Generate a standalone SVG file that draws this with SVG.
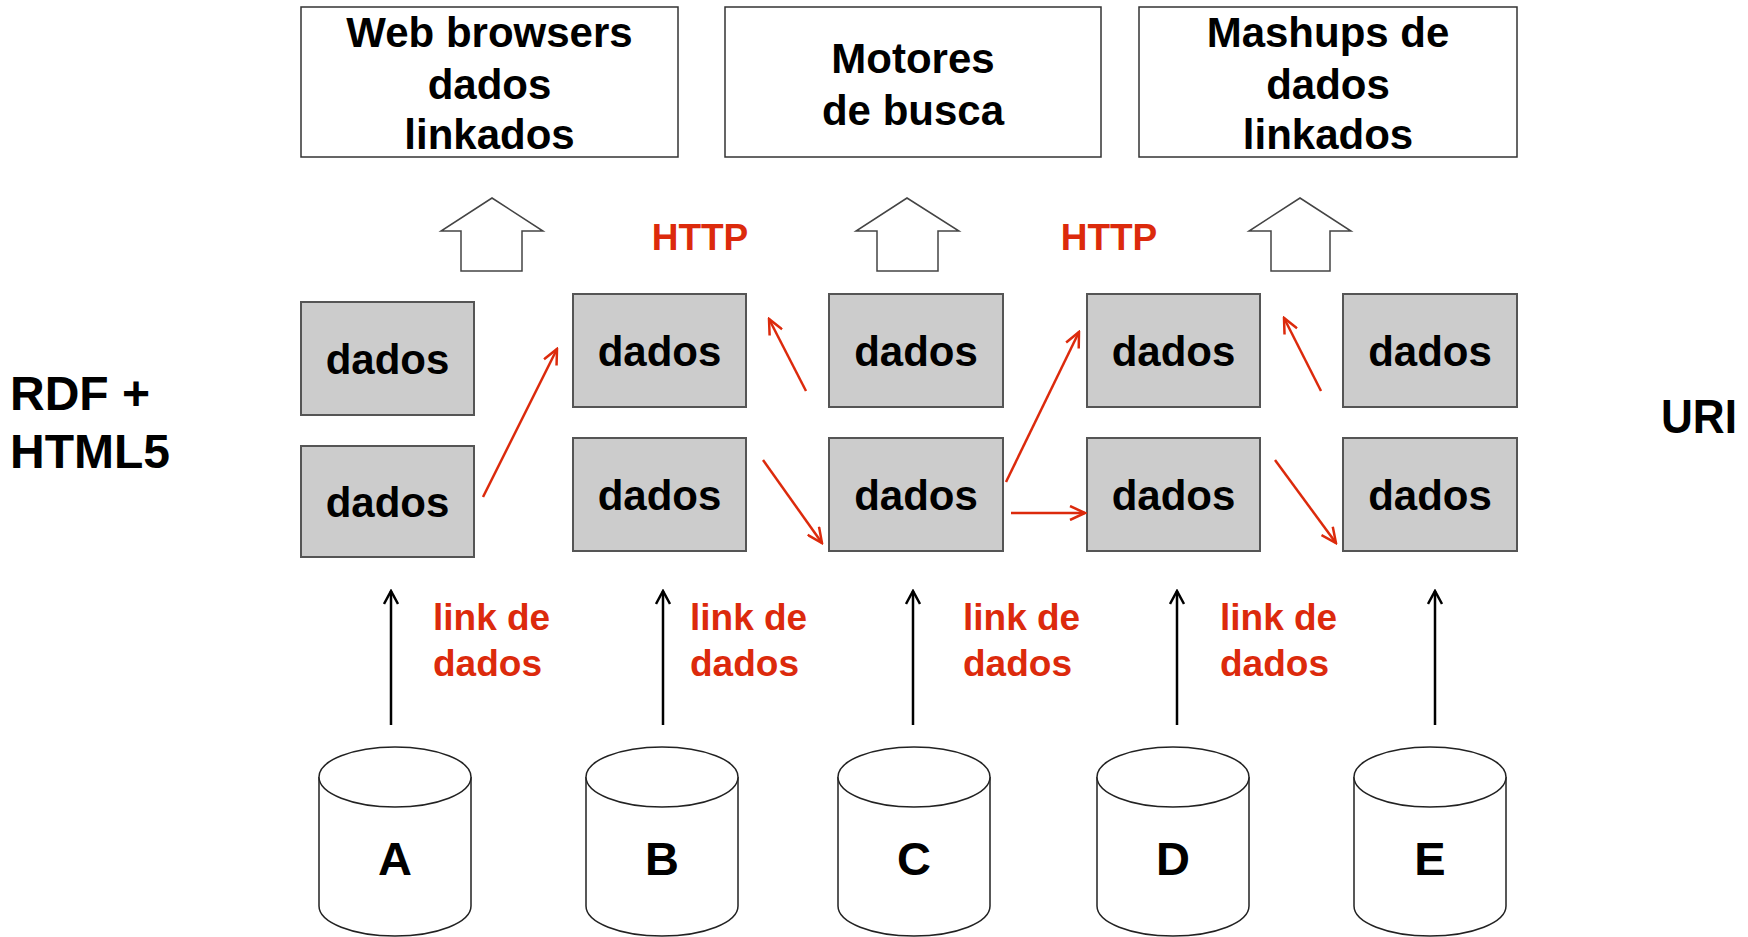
<svg xmlns="http://www.w3.org/2000/svg" width="1748" height="937" viewBox="0 0 1748 937">
<defs>
<style>
.t{font-family:"Liberation Sans",Arial,sans-serif;font-weight:bold;text-anchor:middle;fill:#000}
.top{font-size:42px}
.dd{font-size:42px}
.red{fill:#dc2a0c}
.lbl{font-family:"Liberation Sans",Arial,sans-serif;font-weight:bold;font-size:37px;fill:#dc2a0c}
.box{fill:#fff;stroke:#333;stroke-width:1.5}
.gray{fill:#cccccc;stroke:#555;stroke-width:2}
.blk{fill:#fff;stroke:#444;stroke-width:1.5}
.cyl{fill:#fff;stroke:#222;stroke-width:1.5}
.ra{stroke:#dc2a0c;stroke-width:2.5;fill:none;marker-end:url(#rh)}
.ba{stroke:#000;stroke-width:2.5;fill:none;marker-end:url(#bh)}
</style>
<marker id="rh" markerUnits="userSpaceOnUse" viewBox="0 0 18 16" refX="16" refY="8" markerWidth="18" markerHeight="16" orient="auto">
<path d="M1,1 L16,8 L1,15" fill="none" stroke="#dc2a0c" stroke-width="2.5"/>
</marker>
<marker id="bh" markerUnits="userSpaceOnUse" viewBox="0 0 16 16" refX="14" refY="8" markerWidth="16" markerHeight="16" orient="auto">
<path d="M1,1 L14,8 L1,15" fill="none" stroke="#000" stroke-width="2.5"/>
</marker>
</defs>
<rect width="1748" height="937" fill="#fff"/>

<g id="app-browsers">
<rect class="box" x="301" y="7" width="377" height="150"/>
<text class="t top" x="489.5" y="47">Web browsers</text>
<text class="t top" x="489.5" y="99">dados</text>
<text class="t top" x="489.5" y="149">linkados</text>
</g>
<g id="app-search">
<rect class="box" x="725" y="7" width="376" height="150"/>
<text class="t top" x="913" y="73">Motores</text>
<text class="t top" x="913" y="125">de busca</text>
</g>
<g id="app-mashups">
<rect class="box" x="1139" y="7" width="378" height="150"/>
<text class="t top" x="1328" y="47">Mashups de</text>
<text class="t top" x="1328" y="99">dados</text>
<text class="t top" x="1328" y="149">linkados</text>
</g>

<g id="up-arrows">
<polygon class="blk" points="492,198 543,231 522,231 522,271 461,271 461,231 441,231"/>
<polygon class="blk" points="907,198 959,231 938,231 938,271 877,271 877,231 856,231"/>
<polygon class="blk" points="1300,198 1351,231 1330,231 1330,271 1271,271 1271,231 1249,231"/>
</g>

<g id="http-labels">
<text class="lbl" x="700" y="250" text-anchor="middle">HTTP</text>
<text class="lbl" x="1109" y="250" text-anchor="middle">HTTP</text>
</g>

<g id="side-labels">
<text class="t" x="10" y="410" style="font-size:48px;text-anchor:start">RDF +</text>
<text class="t" x="10" y="468" style="font-size:48px;text-anchor:start">HTML5</text>
<text class="t" x="1661" y="433" style="font-size:48px;text-anchor:start" textLength="76" lengthAdjust="spacingAndGlyphs">URI</text>
</g>

<g id="d-a1"><rect class="gray" x="301" y="302" width="173" height="113"/><text class="t dd" x="387.5" y="374">dados</text></g>
<g id="d-a2"><rect class="gray" x="301" y="446" width="173" height="111"/><text class="t dd" x="387.5" y="517">dados</text></g>
<g id="d-b1"><rect class="gray" x="573" y="294" width="173" height="113"/><text class="t dd" x="659.5" y="366">dados</text></g>
<g id="d-b2"><rect class="gray" x="573" y="438" width="173" height="113"/><text class="t dd" x="659.5" y="510">dados</text></g>
<g id="d-c1"><rect class="gray" x="829" y="294" width="174" height="113"/><text class="t dd" x="916" y="366">dados</text></g>
<g id="d-c2"><rect class="gray" x="829" y="438" width="174" height="113"/><text class="t dd" x="916" y="510">dados</text></g>
<g id="d-d1"><rect class="gray" x="1087" y="294" width="173" height="113"/><text class="t dd" x="1173.5" y="366">dados</text></g>
<g id="d-d2"><rect class="gray" x="1087" y="438" width="173" height="113"/><text class="t dd" x="1173.5" y="510">dados</text></g>
<g id="d-e1"><rect class="gray" x="1343" y="294" width="174" height="113"/><text class="t dd" x="1430" y="366">dados</text></g>
<g id="d-e2"><rect class="gray" x="1343" y="438" width="174" height="113"/><text class="t dd" x="1430" y="510">dados</text></g>

<g id="connectors">
<line class="ra" x1="483" y1="497" x2="557" y2="349"/>
<line class="ra" x1="806" y1="391" x2="769" y2="319"/>
<line class="ra" x1="763" y1="460" x2="822" y2="543"/>
<line class="ra" x1="1006" y1="482" x2="1079" y2="332"/>
<line class="ra" x1="1011" y1="513" x2="1085" y2="513"/>
<line class="ra" x1="1321" y1="391" x2="1284" y2="318"/>
<line class="ra" x1="1275" y1="460" x2="1336" y2="543"/>
<line class="ba" x1="391" y1="725" x2="391" y2="591"/>
<line class="ba" x1="663" y1="725" x2="663" y2="591"/>
<line class="ba" x1="913" y1="725" x2="913" y2="591"/>
<line class="ba" x1="1177" y1="725" x2="1177" y2="591"/>
<line class="ba" x1="1435" y1="725" x2="1435" y2="591"/>
</g>

<g id="link-labels">
<text class="lbl" x="433" y="630">link de</text><text class="lbl" x="433" y="676">dados</text>
<text class="lbl" x="690" y="630">link de</text><text class="lbl" x="690" y="676">dados</text>
<text class="lbl" x="963" y="630">link de</text><text class="lbl" x="963" y="676">dados</text>
<text class="lbl" x="1220" y="630">link de</text><text class="lbl" x="1220" y="676">dados</text>
</g>

<g id="db-a"><path class="cyl" d="M319,777 L319,906 A76,30 0 0 0 471,906 L471,777"/><ellipse class="cyl" cx="395" cy="777" rx="76" ry="30"/><text class="t" x="395" y="875" style="font-size:47px">A</text></g>
<g id="db-b"><path class="cyl" d="M586,777 L586,906 A76,30 0 0 0 738,906 L738,777"/><ellipse class="cyl" cx="662" cy="777" rx="76" ry="30"/><text class="t" x="662" y="875" style="font-size:47px">B</text></g>
<g id="db-c"><path class="cyl" d="M838,777 L838,906 A76,30 0 0 0 990,906 L990,777"/><ellipse class="cyl" cx="914" cy="777" rx="76" ry="30"/><text class="t" x="914" y="875" style="font-size:47px">C</text></g>
<g id="db-d"><path class="cyl" d="M1097,777 L1097,906 A76,30 0 0 0 1249,906 L1249,777"/><ellipse class="cyl" cx="1173" cy="777" rx="76" ry="30"/><text class="t" x="1173" y="875" style="font-size:47px">D</text></g>
<g id="db-e"><path class="cyl" d="M1354,777 L1354,906 A76,30 0 0 0 1506,906 L1506,777"/><ellipse class="cyl" cx="1430" cy="777" rx="76" ry="30"/><text class="t" x="1430" y="875" style="font-size:47px">E</text></g>
</svg>
